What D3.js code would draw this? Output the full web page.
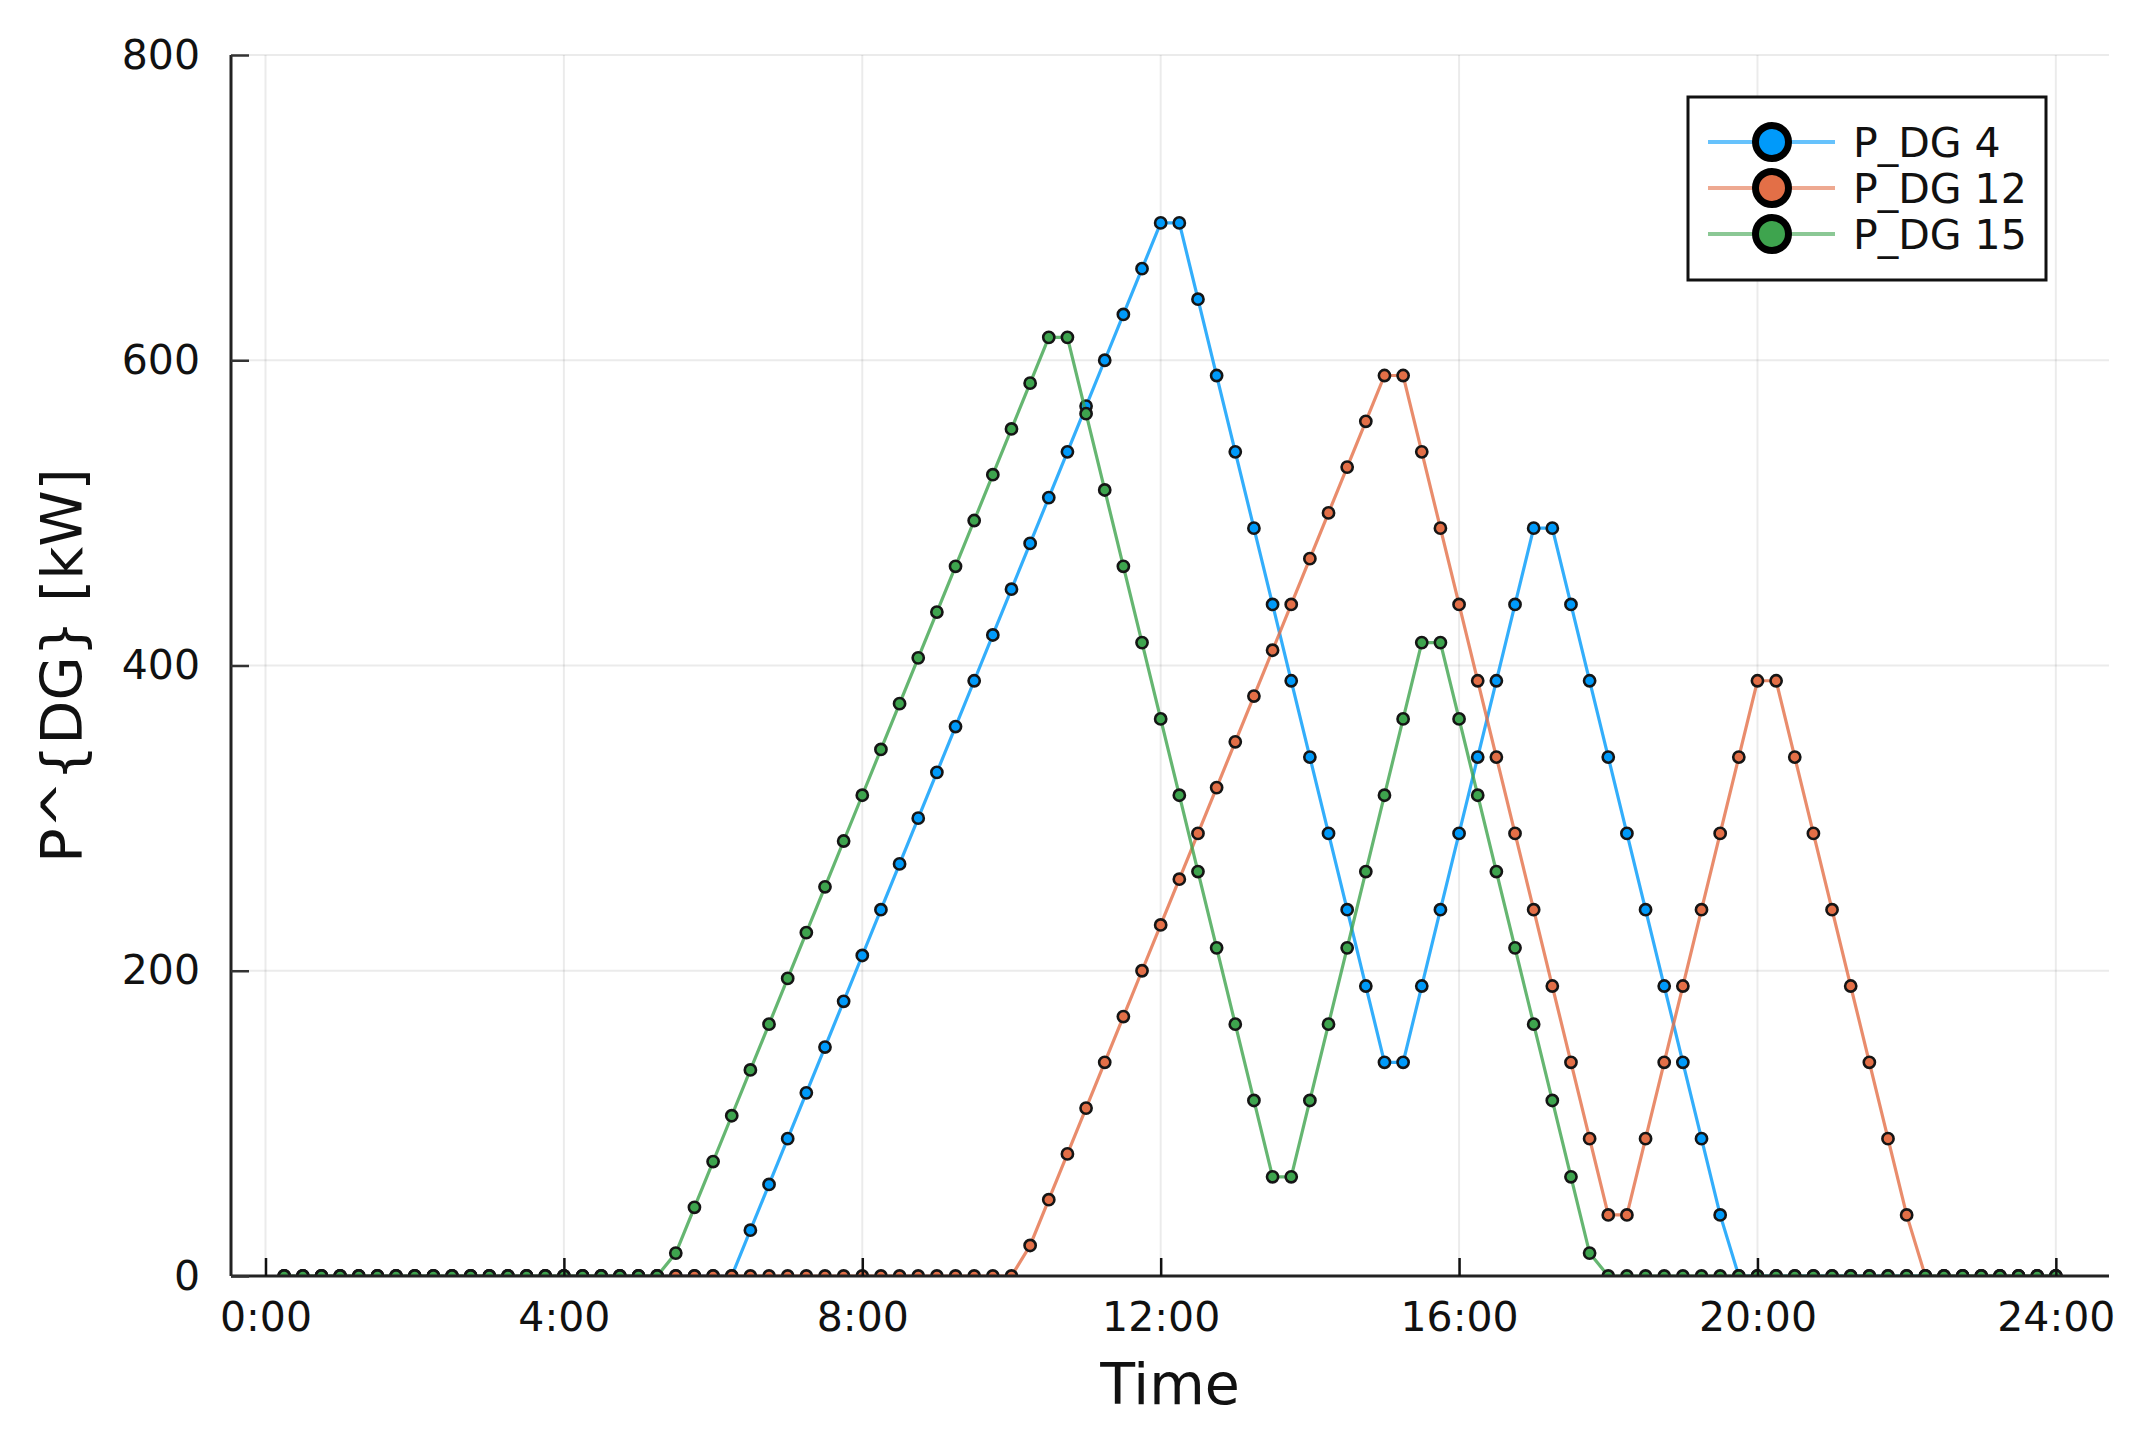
<!DOCTYPE html>
<html>
<head>
<meta charset="utf-8">
<script src="https://cdn.jsdelivr.net/npm/d3@7"></script>
<style>
  html, body { margin: 0; padding: 0; background: #fff; }
  svg { display: block; }
  text { font-family: "DejaVu Sans", sans-serif; fill: #111; }
</style>
</head>
<body>
<svg id="chart" width="2147" height="1447"></svg>
<script>
// ---- data (15-minute steps, 0:15 .. 24:00) ----
const seriesNames = ["P_DG 4", "P_DG 12", "P_DG 15"];
const seriesColors = ["#009AFA", "#E36F47", "#3EA44E"];

const pDG4 = [
  0,0,0,0,0,0,0,0,0,0,0,0,0,0,0,0,0,0,0,0,0,0,0,0,0,
  30,60,90,120,150,180,210,240,270,300,330,360,390,420,450,480,510,540,570,600,630,660,690,
  690,
  640,590,540,490,440,390,340,290,240,190,140,
  140,
  190,240,290,340,390,440,490,
  490,
  440,390,340,290,240,190,140,90,40,
  0,0,0,0,0,0,0,0,0,0,0,0,0,0,0,0,0,0
];
const pDG12 = [
  0,0,0,0,0,0,0,0,0,0,0,0,0,0,0,0,0,0,0,0,
  0,0,0,0,0,0,0,0,0,0,0,0,0,0,0,0,0,0,0,0,
  20,50,80,110,140,170,200,230,260,290,320,350,380,410,440,470,500,530,560,590,
  590,
  540,490,440,390,340,290,240,190,140,90,40,
  40,
  90,140,190,240,290,340,390,
  390,
  340,290,240,190,140,90,40,
  0,0,0,0,0,0,0,0
];
const pDG15 = [
  0,0,0,0,0,0,0,0,0,0,0,0,0,0,0,0,0,0,0,0,0,
  15,45,75,105,135,165,195,225,255,285,315,345,375,405,435,465,495,525,555,585,615,
  615,
  565,515,465,415,365,315,265,215,165,115,65,
  65,
  115,165,215,265,315,365,415,
  415,
  365,315,265,215,165,115,65,15,
  0,0,0,0,0,0,0,0,0,0,0,0,0,0,0,0,0,0,0,0,0,0,0,0,0
];
const times = d3.range(1, 97).map(i => i * 0.25); // hours
const xTicks = [0, 4, 8, 12, 16, 20, 24];
const xTickLabels = ["0:00", "4:00", "8:00", "12:00", "16:00", "20:00", "24:00"];
const yTicks = [0, 200, 400, 600, 800];

const allSeries = [pDG4, pDG12, pDG15];

// ---- layout ----
const svg = d3.select("#chart");
const L = 231, R = 2109, T = 55, B = 1276;
const tMin = d3.min(times), tMax = d3.max(times);
const pad = (tMax - tMin) * 0.03;
const x = d3.scaleLinear().domain([tMin - pad, tMax + pad]).range([L, R]);
const y = d3.scaleLinear().domain([0, 800]).range([B, T]);

svg.append("defs").append("clipPath").attr("id", "clip")
  .append("rect").attr("x", L).attr("y", T).attr("width", R - L).attr("height", B - T);

// grid
const grid = svg.append("g");
grid.selectAll("line.gx").data(xTicks).join("line")
  .attr("x1", d => x(d)).attr("x2", d => x(d)).attr("y1", T).attr("y2", B)
  .attr("stroke", "#000").attr("stroke-opacity", 0.08).attr("stroke-width", 2);
grid.selectAll("line.gy").data(yTicks).join("line")
  .attr("x1", L).attr("x2", R).attr("y1", d => y(d)).attr("y2", d => y(d))
  .attr("stroke", "#000").attr("stroke-opacity", 0.08).attr("stroke-width", 2);

// series
const plot = svg.append("g").attr("clip-path", "url(#clip)");
allSeries.forEach((vals, k) => {
  const pts = vals.map((v, i) => [times[i], v]);
  plot.append("path")
    .datum(pts)
    .attr("fill", "none")
    .attr("stroke", seriesColors[k])
    .attr("stroke-opacity", 0.8)
    .attr("stroke-width", 3.2)
    .attr("d", d3.line().x(d => x(d[0])).y(d => y(d[1])));
  plot.append("g").selectAll("circle").data(pts).join("circle")
    .attr("cx", d => x(d[0])).attr("cy", d => y(d[1]))
    .attr("r", 5.6)
    .attr("fill", seriesColors[k])
    .attr("stroke", "#151515").attr("stroke-width", 2.6);
});

// axes
const xAxis = d3.axisBottom(x).tickValues(xTicks).tickFormat((d, i) => xTickLabels[i])
  .tickSizeInner(-18).tickSizeOuter(0).tickPadding(26);
const gx = svg.append("g").attr("transform", `translate(0,${B})`).call(xAxis);
gx.select(".domain").attr("stroke", "#222").attr("stroke-width", 3)
  .attr("d", `M${L},0H${R}`);
gx.selectAll(".tick line").attr("stroke", "#111").attr("stroke-width", 2.5);
gx.selectAll(".tick text").attr("font-size", 41).attr("fill", "#111")
  .attr("font-family", "DejaVu Sans").attr("dy", "0.71em");

const yAxis = d3.axisLeft(y).tickValues(yTicks).tickFormat(d3.format("d"))
  .tickSizeInner(-18).tickSizeOuter(0).tickPadding(31);
const gy = svg.append("g").attr("transform", `translate(${L},0)`).call(yAxis);
gy.select(".domain").attr("stroke", "#222").attr("stroke-width", 3)
  .attr("d", `M0,${B}V${T}`);
gy.selectAll(".tick line").attr("stroke", "#333").attr("stroke-width", 2.5);
gy.selectAll(".tick text").attr("font-size", 41).attr("fill", "#111")
  .attr("font-family", "DejaVu Sans");

// axis titles
svg.append("text").attr("x", (L + R) / 2).attr("y", 1404)
  .attr("text-anchor", "middle").attr("font-size", 57).text("Time");
svg.append("text").attr("transform", `translate(82,${(T + B) / 2}) rotate(-90)`)
  .attr("text-anchor", "middle").attr("font-size", 57).text("P^{DG} [kW]");

// legend
const lg = svg.append("g");
lg.append("rect").attr("x", 1688).attr("y", 97).attr("width", 358).attr("height", 183)
  .attr("fill", "#fff").attr("stroke", "#111").attr("stroke-width", 3);
const rowY = [142, 188, 234];
seriesNames.forEach((name, k) => {
  const g = lg.append("g").attr("transform", `translate(0,${rowY[k]})`);
  g.append("line").attr("x1", 1708).attr("x2", 1835).attr("y1", 0).attr("y2", 0)
    .attr("stroke", seriesColors[k]).attr("stroke-opacity", 0.6).attr("stroke-width", 4);
  g.append("circle").attr("cx", 1772).attr("cy", 0).attr("r", 16.5)
    .attr("fill", seriesColors[k]).attr("stroke", "#000").attr("stroke-width", 7);
  g.append("text").attr("x", 1853).attr("y", 15).attr("font-size", 41).text(name);
});
</script>
</body>
</html>
